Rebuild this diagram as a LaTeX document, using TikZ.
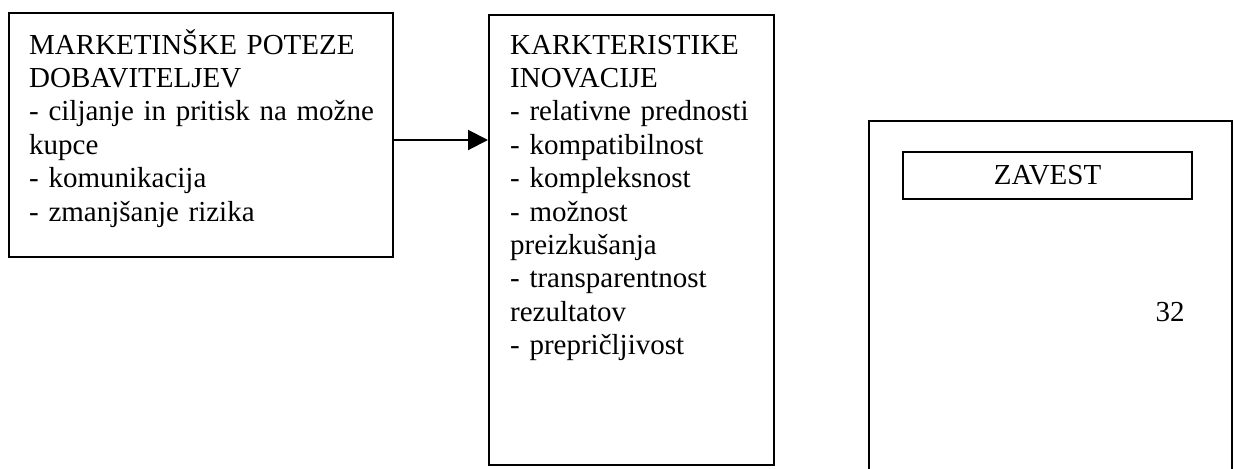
\documentclass[tikz,border=0pt]{standalone}
\usepackage{fontspec}
\setmainfont{Liberation Serif}
\usetikzlibrary{arrows.meta}

\begin{document}
\begin{tikzpicture}[x=1pt,y=1pt,line width=1.2pt,
  box/.style={draw,inner sep=0pt,anchor=north west},
  txt/.style={inner sep=0pt,anchor=base west,align=left,font=\fontsize{14.5}{16.7}\selectfont},
  arr/.style={-{Triangle[length=10pt,width=10pt]},line width=1pt}]
\useasboundingbox (0,0) rectangle (617,234);
% ---------- levo: poteze dobaviteljev ----------
\node[box,minimum width=192pt,minimum height=122pt] (poteze) at (4,228) {};
\node[txt,text width=210pt] (potezetxt) at (14,207) {MARKETINŠKE POTEZE\\
  DOBAVITELJEV\\
  - ciljanje in pritisk na možne\\
  kupce\\
  - komunikacija\\
  - zmanjšanje rizika};
% ---------- sredina: karakteristike inovacije ----------
\node[box,minimum width=142.5pt,minimum height=225pt] (inovacije) at (244,227) {};
\node[txt,text width=150pt] (inovacijetxt) at (254.5,207) {KARKTERISTIKE\\
  INOVACIJE\\
  - relativne prednosti\\
  - kompatibilnost\\
  - kompleksnost\\
  - možnost\\
  preizkušanja\\
  - transparentnost\\
  rezultatov\\
  - prepričljivost};
% puscica
\coordinate (puscica) at (0,164);
\draw[arr] (poteze.east |- puscica) -- (inovacije.west |- puscica);
% ---------- desno: zavest ----------
\node[box,minimum width=181.5pt,minimum height=190pt] (desno) at (434,174) {};
\node[draw,inner sep=0pt,minimum width=144.5pt,minimum height=23.5pt,
  font=\fontsize{14.5}{16.7}\selectfont] (zavest) at (523.75,146.25) {ZAVEST};
\node[inner sep=0pt,anchor=base,font=\fontsize{14.5}{16.7}\selectfont] (stran) at (585,73.5) {32};
\end{tikzpicture}
\end{document}
